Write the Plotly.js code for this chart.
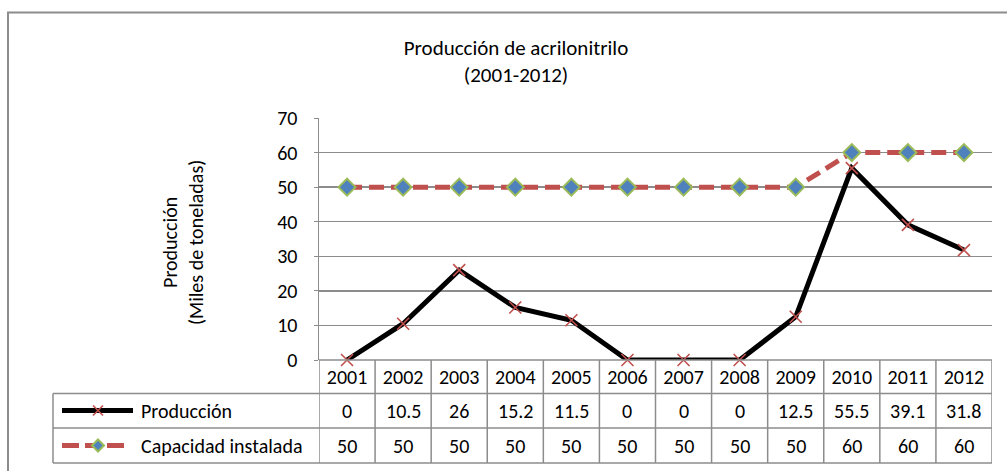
<!DOCTYPE html>
<html>
<head>
<meta charset="utf-8">
<script src="https://cdn.plot.ly/plotly-3.0.1.min.js"></script>
<style>html,body{margin:0;padding:0;background:#fff;}#chart{width:1007px;height:471px;}</style>
</head>
<body>
<div id="chart"></div>
<script>
const years = ['2001','2002','2003','2004','2005','2006','2007','2008','2009','2010','2011','2012'];
const produccion = [0, 10.5, 26, 15.2, 11.5, 0, 0, 0, 12.5, 55.5, 39.1, 31.8];
const capacidad = [50, 50, 50, 50, 50, 50, 50, 50, 50, 60, 60, 60];
const seriesNames = ['Producción', 'Capacidad instalada'];
const yTicks = [0, 10, 20, 30, 40, 50, 60, 70];

const FONT = 'Calibri, Carlito, Lato, sans-serif';
const FS = 20;
const W = 1007, H = 471, ML = 319, MR = 15, MT = 118, MB = 111;
const PW = W - ML - MR, PH = H - MT - MB;
const px = x => (x - ML) / PW;           // pixel -> paper x
const py = y => (H - MB - y) / PH;       // pixel -> paper y
const GRID = '#8c8c8c';
const RED = '#c0504d';

const traces = [
  {x: years, y: produccion, name: seriesNames[0], type: 'scatter', mode: 'lines+markers',
   line: {color: '#000', width: 5}, cliponaxis: false,
   marker: {symbol: 'x-thin-open', size: 12, color: RED, line: {color: RED, width: 1.6}}},
  {x: years, y: capacidad, name: seriesNames[1], type: 'scatter', mode: 'lines+markers',
   line: {color: RED, width: 5, dash: '15px,7px'}, cliponaxis: false,
   marker: {symbol: 'diamond', size: 13, color: '#4f81bd', line: {color: '#9bbb59', width: 2}}}
];

const shapes = [];
const annotations = [];
const L = (x0, y0, x1, y1, xref, color, width) =>
  shapes.push({type: 'line', xref: xref || 'paper', yref: 'paper', x0, y0, x1, y1,
               line: {color: color || GRID, width: width || 1.5}, layer: 'above'});

// outer chart border
shapes.push({type: 'rect', xref: 'paper', yref: 'paper', x0: px(8), x1: px(1020), y0: py(12.5), y1: py(480),
  line: {color: GRID, width: 2}});

// table grid
const yTop = py(360), yR1 = py(393.5), yR2 = py(428), yBot = py(463);
const n = years.length;
L(-0.5, yTop, n - 0.5, yTop, 'x');
[yR1, yR2, yBot].forEach(y => L(px(53), y, px(992), y));
L(px(53), yR1, px(53), yBot);
for (let i = 0; i <= n; i++) L(i - 0.5, yTop, i - 0.5, yBot, 'x');

// table values
const rowY = [py(410.5), py(445.5)];
[produccion, capacidad].forEach((arr, r) => {
  arr.forEach((v, i) => annotations.push({x: i, y: rowY[r], xref: 'x', yref: 'paper',
    xanchor: 'center', yanchor: 'middle',
    text: String(v), showarrow: false, font: {family: FONT, size: FS, color: '#000'}}));
  annotations.push({x: px(139), y: rowY[r], xref: 'paper', yref: 'paper', xanchor: 'left', yanchor: 'middle',
    text: seriesNames[r], showarrow: false, font: {family: FONT, size: FS, color: '#000'}});
});

// legend keys
L(px(62), rowY[0], px(133), rowY[0], 'paper', '#000', 5);
const kx = 98, ky = 410.5, ks = 5;
L(px(kx - ks), py(ky - ks), px(kx + ks), py(ky + ks), 'paper', RED, 1.6);
L(px(kx - ks), py(ky + ks), px(kx + ks), py(ky - ks), 'paper', RED, 1.6);
[[62, 79], [85, 95], [107, 124]].forEach(s => L(px(s[0]), rowY[1], px(s[1]), rowY[1], 'paper', RED, 5));
const dy = 445.5, dd = 6;
shapes.push({type: 'path', xref: 'paper', yref: 'paper', layer: 'above',
  path: `M ${px(kx)} ${py(dy - dd)} L ${px(kx + dd)} ${py(dy)} L ${px(kx)} ${py(dy + dd)} L ${px(kx - dd)} ${py(dy)} Z`,
  fillcolor: '#4f81bd', line: {color: '#9bbb59', width: 2}});

// y-axis title
annotations.push({x: px(183), y: py(243), xref: 'paper', yref: 'paper', textangle: -90,
  xanchor: 'center', yanchor: 'middle',
  text: 'Producción<br>(Miles de toneladas)', showarrow: false,
  font: {family: FONT, size: FS, color: '#000'}});

const layout = {
  width: W, height: H,
  margin: {l: ML, r: MR, t: MT, b: MB, pad: 0},
  paper_bgcolor: '#fff', plot_bgcolor: '#fff',
  showlegend: false,
  font: {family: FONT, size: FS, color: '#000'},
  title: {text: 'Producción de acrilonitrilo<br>(2001-2012)', x: 516 / W, xanchor: 'center',
          y: 1 - 55 / H, yanchor: 'middle', font: {family: FONT, size: 21, color: '#000'}},
  xaxis: {type: 'category', range: [-0.5, n - 0.5], showgrid: false, zeroline: false,
          showline: false, ticks: '', ticklabelstandoff: 3,
          tickfont: {family: FONT, size: FS, color: '#000'}, fixedrange: true},
  yaxis: {range: [0, 70], tickvals: yTicks, showgrid: true, gridcolor: GRID, gridwidth: 1.5,
          zeroline: false, showline: true, linecolor: GRID, linewidth: 1.5,
          ticks: 'outside', ticklen: 4, tickcolor: GRID, ticklabelstandoff: 12,
          tickfont: {family: FONT, size: FS, color: '#000'}, fixedrange: true},
  shapes, annotations
};

Plotly.newPlot('chart', traces, layout, {displayModeBar: false, staticPlot: true});
</script>
</body>
</html>
